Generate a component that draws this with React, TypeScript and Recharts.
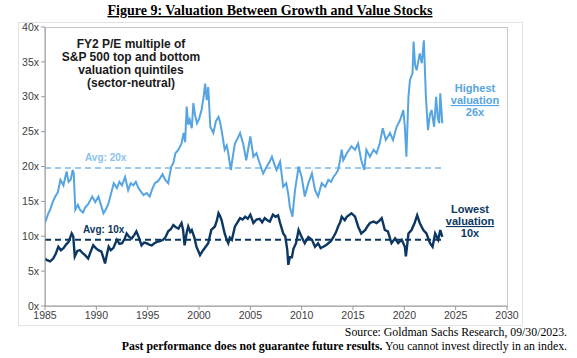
import React from "react";
import { LineChart, Line, XAxis, YAxis, ReferenceLine } from "recharts";

// highest valuation quintile, FY2 P/E
const highYears = [
  1985.0, 1985.1, 1985.3, 1985.5, 1985.75, 1986.0, 1986.25, 1986.5, 1986.8, 1987.1, 1987.3, 1987.5,
  1987.7, 1987.8, 1987.95, 1988.2, 1988.4, 1988.7, 1988.9, 1989.2, 1989.6, 1989.9, 1990.2, 1990.45,
  1990.7, 1990.95, 1991.2, 1991.5, 1991.7, 1992.0, 1992.25, 1992.5, 1992.8, 1993.1, 1993.35, 1993.6,
  1993.85, 1994.1, 1994.4, 1994.6, 1994.9, 1995.2, 1995.45, 1995.7, 1996.0, 1996.2, 1996.45, 1996.7,
  1997.0, 1997.15, 1997.3, 1997.5, 1997.7, 1998.0, 1998.3, 1998.5, 1998.65, 1998.8, 1998.95, 1999.1,
  1999.3, 1999.45, 1999.6, 1999.8, 2000.0, 2000.25, 2000.45, 2000.6, 2000.75, 2000.9, 2001.1, 2001.4,
  2001.65, 2001.9, 2002.05, 2002.2, 2002.35, 2002.5, 2002.7, 2002.85, 2003.1, 2003.3, 2003.5, 2003.75,
  2004.0, 2004.3, 2004.6, 2005.0, 2005.3, 2005.6, 2005.9, 2006.25, 2006.6, 2006.85, 2007.1, 2007.35,
  2007.55, 2007.9, 2008.2, 2008.5, 2008.7, 2008.85, 2009.1, 2009.35, 2009.55, 2009.7, 2010.0, 2010.3,
  2010.65, 2011.0, 2011.3, 2011.6, 2011.95, 2012.3, 2012.6, 2012.85, 2013.1, 2013.35, 2013.55, 2013.75,
  2013.9, 2014.05, 2014.4, 2014.85, 2015.2, 2015.5, 2015.8, 2016.1, 2016.3, 2016.65, 2017.0, 2017.3,
  2017.6, 2017.9, 2018.2, 2018.6, 2018.9, 2019.25, 2019.6, 2019.9, 2020.05, 2020.2, 2020.4, 2020.55,
  2020.8, 2020.9, 2021.05, 2021.2, 2021.5, 2021.7, 2021.9, 2022.1, 2022.3, 2022.5, 2022.65, 2022.9,
  2023.1, 2023.25, 2023.4, 2023.5, 2023.7,
];
const highValues = [
  12.0, 12.3, 13.2, 13.8, 14.9, 15.7, 16.3, 18.1, 17.3, 19.3, 17.8, 18.1,
  19.5, 19.0, 13.8, 14.5, 13.8, 13.4, 14.1, 14.6, 15.7, 14.9, 15.7, 14.5,
  13.3, 13.9, 14.8, 16.5, 17.6, 16.9, 17.8, 17.3, 18.5, 16.6, 17.6, 17.3,
  17.8, 16.9, 16.3, 15.9, 16.2, 15.7, 16.8, 17.6, 17.9, 18.3, 18.9, 18.1,
  17.6, 18.8, 20.0, 20.5, 21.9, 22.4, 23.3, 24.8, 23.5, 28.6, 26.0, 26.7,
  25.5, 29.1, 27.5, 26.2, 26.8, 28.1, 30.0, 31.9, 29.5, 31.4, 25.7, 24.8,
  26.5, 27.1, 26.4, 25.2, 23.8, 22.4, 23.0, 21.9, 19.5, 21.5, 23.3, 24.0,
  24.8, 23.3, 20.9, 24.3, 21.4, 21.9, 20.5, 19.0, 20.0, 20.6, 21.4, 20.3,
  19.5, 20.7, 17.1, 17.6, 16.0, 14.2, 12.8, 16.6, 18.5, 20.0, 18.5, 15.7,
  17.6, 19.0, 16.6, 15.7, 17.6, 17.1, 18.1, 17.8, 18.5, 19.0, 19.5, 21.0,
  22.4, 20.9, 21.9, 22.9, 22.4, 23.3, 20.9, 19.5, 22.4, 21.4, 22.4, 21.9,
  23.3, 25.5, 23.8, 24.8, 23.8, 25.7, 26.7, 28.1, 25.7, 21.4, 30.0, 32.4,
  33.4, 37.9, 34.5, 33.8, 36.2, 34.8, 38.1, 30.0, 25.2, 27.5, 28.1, 25.7,
  30.0, 27.0, 26.2, 30.5, 26.2,
];

// lowest valuation quintile
const lowYears = [
  1985.0, 1985.15, 1985.5, 1985.8, 1986.05, 1986.3, 1986.55, 1986.8, 1987.05, 1987.3, 1987.6, 1987.75,
  1987.9, 1988.15, 1988.4, 1988.65, 1988.9, 1989.2, 1989.45, 1989.7, 1989.95, 1990.2, 1990.5, 1990.85,
  1991.0, 1991.2, 1991.4, 1991.65, 1992.0, 1992.25, 1992.5, 1992.75, 1992.95, 1993.2, 1993.45, 1993.7,
  1993.9, 1994.15, 1994.4, 1994.65, 1994.9, 1995.15, 1995.4, 1995.65, 1995.9, 1996.2, 1996.5, 1996.75,
  1997.0, 1997.25, 1997.5, 1997.75, 1998.0, 1998.3, 1998.45, 1998.6, 1998.8, 1998.95, 1999.15, 1999.3,
  1999.55, 1999.75, 2000.1, 2000.4, 2000.65, 2000.9, 2001.05, 2001.2, 2001.55, 2001.75, 2001.9, 2002.05,
  2002.2, 2002.5, 2002.7, 2002.85, 2003.0, 2003.2, 2003.5, 2003.75, 2004.0, 2004.25, 2004.5, 2004.75,
  2005.0, 2005.3, 2005.6, 2005.9, 2006.15, 2006.4, 2006.65, 2006.9, 2007.2, 2007.45, 2007.7, 2007.9,
  2008.2, 2008.4, 2008.6, 2008.7, 2008.85, 2009.05, 2009.2, 2009.45, 2009.7, 2010.0, 2010.3, 2010.65,
  2011.0, 2011.3, 2011.6, 2011.85, 2012.1, 2012.35, 2012.6, 2012.85, 2013.1, 2013.35, 2013.55, 2013.75,
  2013.9, 2014.2, 2014.4, 2014.85, 2015.2, 2015.5, 2015.8, 2016.2, 2016.4, 2016.65, 2017.0, 2017.3,
  2017.55, 2017.8, 2018.1, 2018.4, 2018.75, 2019.1, 2019.4, 2019.75, 2020.05, 2020.15, 2020.3, 2020.4,
  2020.7, 2021.0, 2021.25, 2021.5, 2021.85, 2022.15, 2022.5, 2022.75, 2023.0, 2023.3, 2023.5, 2023.7,
];
const lowValues = [
  6.8, 6.6, 6.4, 6.8, 7.5, 8.5, 8.0, 8.3, 8.8, 9.2, 10.4, 10.0,
  7.1, 7.9, 8.0, 7.6, 7.3, 6.8, 7.8, 8.7, 8.3, 8.0, 7.8, 6.1,
  7.2, 8.5, 8.0, 8.3, 9.5, 8.9, 9.0, 9.6, 10.4, 9.9, 9.7, 10.2,
  10.7, 9.8, 8.7, 9.1, 9.0, 8.8, 8.7, 9.0, 9.2, 9.3, 9.5, 9.9,
  10.7, 11.0, 11.6, 11.3, 11.1, 11.9, 10.9, 8.7, 10.5, 11.4, 10.6, 10.9,
  9.8, 8.5, 7.3, 8.0, 8.5, 9.0, 10.0, 10.9, 11.4, 12.3, 13.3, 12.9,
  12.3, 10.4, 9.5, 9.0, 9.8, 9.5, 11.4, 12.0, 12.6, 12.4, 12.8, 12.5,
  13.1, 11.9, 12.4, 12.5, 12.0, 12.6, 12.3, 12.1, 13.1, 12.8, 13.0, 11.9,
  10.4, 10.0, 8.0, 5.9, 7.0, 7.0, 8.2, 9.0, 10.9, 9.9, 9.0, 9.9,
  9.5, 8.5, 9.0, 8.3, 8.5, 8.7, 9.0, 9.3, 9.9, 10.6, 11.4, 12.0,
  12.8, 12.3, 12.8, 13.3, 12.8, 11.4, 10.4, 10.9, 11.4, 11.9, 12.1, 11.9,
  12.2, 12.6, 10.9, 10.7, 9.0, 9.7, 9.0, 9.5, 8.5, 7.1, 9.0, 10.4,
  10.9, 11.9, 13.0, 11.9, 10.9, 10.4, 9.0, 8.5, 10.4, 9.5, 10.9, 9.9,
];

const avgHigh = 19.8;
const avgLow = 9.5;
const avgStart = 1985;
const avgEnd = 2023.7;

const xTicks = [1985, 1990, 1995, 2000, 2005, 2010, 2015, 2020, 2025, 2030];
const yTicks = [0, 5, 10, 15, 20, 25, 30, 35, 40];

const highData = highYears.map((year, i) => ({ year, value: highValues[i] }));
const lowData = lowYears.map((year, i) => ({ year, value: lowValues[i] }));

const LIGHT = "#56a5e2";
const NAVY = "#0c3762";
const SANS = "Arial, 'Liberation Sans', sans-serif";
const SERIF = "'Times New Roman', 'Liberation Serif', serif";

export default function App() {
  return (
    <div style={{ position: "absolute", left: 0, top: 0, width: 577, height: 358, background: "#fff" }}>
      <svg width={577} height={358} style={{ position: "absolute", left: 0, top: 0 }}>
        <rect x={18.5} y={22.5} width={504} height={303} fill="none" stroke="#e2e2e2" />
        <rect x={45.5} y={27.5} width={462} height={279} fill="none" stroke="#c8c8c8" />
      </svg>
      <div style={{ position: "absolute", left: 0, top: 0 }}>
        <LineChart width={577} height={358} margin={{ top: 27, right: 70, bottom: 32, left: 15 }}>
          <XAxis
            type="number"
            dataKey="year"
            domain={[1985, 2030]}
            ticks={xTicks}
            allowDataOverflow
            height={20}
            stroke="#9a9a9a"
            tickSize={4}
            tick={{ fill: "#404040", fontSize: 10.5, fontFamily: SANS }}
          />
          <YAxis
            type="number"
            domain={[0, 40]}
            ticks={yTicks}
            width={30}
            stroke="#9a9a9a"
            tickSize={4}
            tickFormatter={(v: number) => `${v}x`}
            tick={{ fill: "#404040", fontSize: 10.5, fontFamily: SANS }}
          />
          <ReferenceLine
            segment={[{ x: avgStart, y: avgHigh }, { x: avgEnd, y: avgHigh }]}
            stroke="#7dbbea"
            strokeWidth={1.5}
            strokeDasharray="6 4"
          />
          <ReferenceLine
            segment={[{ x: avgStart, y: avgLow }, { x: avgEnd, y: avgLow }]}
            stroke={NAVY}
            strokeWidth={1.8}
            strokeDasharray="6 4"
          />
          <Line
            data={highData}
            dataKey="value"
            type="linear"
            stroke={LIGHT}
            strokeWidth={2}
            dot={false}
            isAnimationActive={false}
          />
          <Line
            data={lowData}
            dataKey="value"
            type="linear"
            stroke={NAVY}
            strokeWidth={2.4}
            dot={false}
            isAnimationActive={false}
          />
        </LineChart>
      </div>
      <svg width={577} height={358} style={{ position: "absolute", left: 0, top: 0, pointerEvents: "none" }}>
        <text x={270} y={15} textAnchor="middle" fontFamily={SERIF} fontWeight="bold" fontSize={14} textDecoration="underline" fill="#000">
          Figure 9: Valuation Between Growth and Value Stocks
        </text>
        <g fontFamily={SANS} fontWeight="bold" fontSize={12} fill="#1a1a1a" textAnchor="middle">
          <text x={131} y={48}>FY2 P/E multiple of</text>
          <text x={131} y={61}>S&amp;P 500 top and bottom</text>
          <text x={131} y={74}>valuation quintiles</text>
          <text x={131} y={87}>(sector-neutral)</text>
        </g>
        <text x={85} y={161} fontFamily={SANS} fontWeight="bold" fontSize={10} fill="#8cc3ec">Avg: 20x</text>
        <text x={83} y={233} fontFamily={SANS} fontWeight="bold" fontSize={10} fill={NAVY}>Avg: 10x</text>
        <g fontFamily={SANS} fontWeight="bold" fontSize={11} fill={LIGHT} textAnchor="middle">
          <text x={475} y={92}>Highest</text>
          <text x={475} y={104} textDecoration="underline">valuation</text>
          <text x={475} y={116}>26x</text>
        </g>
        <g fontFamily={SANS} fontWeight="bold" fontSize={11} fill={NAVY} textAnchor="middle">
          <text x={470} y={213}>Lowest</text>
          <text x={470} y={225} textDecoration="underline">valuation</text>
          <text x={470} y={237}>10x</text>
        </g>
        <text x={567} y={336} textAnchor="end" fontFamily={SERIF} fontSize={11.8} fill="#000">
          Source: Goldman Sachs Research, 09/30/2023.
        </text>
        <text x={567} y={350} textAnchor="end" fontFamily={SERIF} fontSize={11.8} fill="#000">
          <tspan fontWeight="bold">Past performance does not guarantee future results.</tspan>
          <tspan>{"  You cannot invest directly in an index."}</tspan>
        </text>
      </svg>
    </div>
  );
}
